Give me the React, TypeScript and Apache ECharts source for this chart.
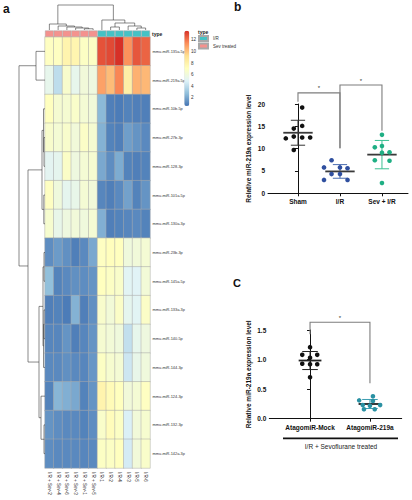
import React, { useEffect, useRef } from 'react';
import * as echarts from 'echarts';

// ---------- Panel a: heatmap ----------
const colNames = ['I/R + Sev-2', 'I/R + Sev-4', 'I/R + Sev-6', 'I/R + Sev-3', 'I/R + Sev-1', 'I/R + Sev-5', 'I/R-1', 'I/R-2', 'I/R-4', 'I/R-3', 'I/R-5', 'I/R-6'];
const colTypes = ['Sev treated', 'Sev treated', 'Sev treated', 'Sev treated', 'Sev treated', 'Sev treated', 'I/R', 'I/R', 'I/R', 'I/R', 'I/R', 'I/R'];
const typeNames = ['I/R', 'Sev treated'];
const rowNames = ['mmu-miR-135a-5p', 'mmu-miR-219a-5p', 'mmu-miR-10b-5p', 'mmu-miR-27b-3p', 'mmu-miR-128-3p', 'mmu-miR-101a-5p', 'mmu-miR-130a-3p', 'mmu-miR-23b-3p', 'mmu-miR-145a-5p', 'mmu-miR-133a-3p', 'mmu-miR-140-5p', 'mmu-miR-144-3p', 'mmu-miR-124-3p', 'mmu-miR-132-3p', 'mmu-miR-142a-3p'];
const heatValues = [
  [7.0, 7.0, 7.9, 7.8, 6.9, 6.9, 12.8, 13.0, 13.6, 11.3, 12.7, 12.4],
  [5.4, 4.0, 6.6, 5.4, 6.1, 5.9, 10.9, 10.2, 11.6, 8.2, 10.5, 10.3],
  [7.1, 6.4, 6.4, 6.7, 6.3, 6.1, 2.6, 0.9, 0.8, 1.0, 0.9, 0.9],
  [6.6, 6.3, 6.6, 6.1, 6.8, 6.4, 2.4, 1.0, 0.9, 1.8, 1.5, 1.2],
  [5.2, 5.3, 6.8, 5.9, 6.3, 6.4, 2.1, 1.3, 2.2, 1.0, 0.9, 1.0],
  [7.0, 6.0, 5.3, 5.5, 6.3, 6.1, 1.1, 0.9, 1.2, 1.9, 1.0, 1.5],
  [6.5, 5.5, 5.9, 6.1, 6.0, 6.3, 2.3, 0.9, 1.0, 1.1, 1.2, 1.0],
  [1.3, 1.7, 1.4, 0.9, 1.2, 2.1, 7.0, 7.2, 7.1, 6.0, 6.1, 6.3],
  [2.8, 1.0, 1.2, 1.4, 1.3, 1.5, 7.1, 6.9, 6.7, 5.1, 5.0, 6.2],
  [0.9, 1.0, 0.8, 2.4, 0.9, 1.4, 6.6, 6.2, 6.8, 5.3, 5.1, 6.8],
  [1.1, 1.1, 1.5, 0.9, 1.1, 1.5, 6.4, 6.2, 6.0, 4.1, 5.4, 5.9],
  [1.2, 1.2, 1.4, 1.2, 1.1, 1.6, 6.9, 6.5, 6.3, 4.4, 5.5, 6.0],
  [1.0, 2.5, 2.3, 2.1, 1.0, 1.5, 7.9, 7.4, 7.1, 6.1, 6.3, 7.0],
  [1.5, 1.3, 1.2, 1.2, 1.0, 1.3, 6.7, 7.3, 6.9, 4.8, 6.1, 6.5],
  [1.3, 1.2, 1.2, 1.2, 1.1, 1.2, 6.9, 6.9, 7.1, 4.6, 6.1, 6.7],
];
const scaleMin = 0.6;
const scaleMax = 13.6;
const scaleTicks = [2, 4, 6, 8, 10, 12];
const heatColors = ['#4575B4', '#91BFDB', '#E0F3F8', '#FFFFBF', '#FEE090', '#FC8D59', '#D73027'];
const typeColors = { 'I/R': '#45C2C5', 'Sev treated': '#F4928E' };

// hclust-style merges: negative = leaf (1-based display order), positive = earlier merge; third value = height
const colMerges = [
  [-5, -6, 0.5], [-4, 1, 0.8], [-3, 2, 1.2], [-2, 3, 1.6], [-1, 4, 2.4],
  [-8, -9, 1.2], [-11, -12, 0.8], [-10, 7, 1.6], [6, 8, 2.8], [-7, 9, 4.0],
  [5, 10, 10],
];
const rowMerges = [
  [-1, -2, 9], [-4, -5, 1], [-3, 2, 1.5], [-6, -7, 1.2], [3, 4, 3],
  [-8, -9, 1], [-10, -11, 1], [7, -12, 1.5], [6, 8, 2], [-14, -15, 1],
  [-13, 10, 4], [9, 11, 6], [5, 12, 17], [1, 13, 26],
];

// ---------- Panel b ----------
const groupsB = ['Sham', 'I/R', 'Sev + I/R'];
const shamValues = [19.2, 14.5, 15.1, 12.3, 12.7, 12.5, 12.5, 9.7];
const shamJitter = [0.1, -0.1, 0.1, -0.29, -0.1, 0.1, 0.29, -0.1];
const irValues = [7.4, 5.8, 5.8, 5.6, 4.3, 4.3, 3.0, 3.0];
const irJitter = [-0.2, -0.38, 0, 0.18, -0.2, 0, -0.38, 0.18];
const sevValues = [13.1, 10.3, 10.6, 9.1, 9.2, 7.4, 7.3, 2.3];
const sevJitter = [0, -0.17, 0, 0, 0.18, -0.17, 0.18, 0];
// [x1, leg1 bottom, x2, leg2 bottom, top]
const bracketsB = [
  [0, 20.5, 1, 10.1, 22.5],
  [1, 10.1, 2, 14.0, 24.25],
];

// ---------- Panel c ----------
const groupsC = ['AtagomiR-Mock', 'AtagomiR-219a'];
const mockValues = [1.21, 1.08, 1.08, 1.03, 0.93, 0.92, 0.92, 0.70];
const mockJitter = [0, -0.13, 0.12, 0, -0.13, 0, 0.12, 0];
const agoValues = [0.38, 0.31, 0.30, 0.23, 0.23, 0.22, 0.16, 0.16];
const agoJitter = [0.05, -0.18, 0.05, -0.12, 0.17, 0, -0.1, 0.08];
const bracketsC = [[0, 1.43, 1, 0.6, 1.63]];

const FONT = '"Liberation Sans", Arial, Helvetica, sans-serif';

function mean(a: number[]) {
  return a.reduce((s, v) => s + v, 0) / a.length;
}
function sd(a: number[]) {
  const m = mean(a);
  return Math.sqrt(a.reduce((s, v) => s + (v - m) * (v - m), 0) / (a.length - 1));
}

function buildLinks(merges: number[][]) {
  const pos: number[] = [];
  const hgt: number[] = [];
  const links: number[][] = [];
  merges.forEach(([a, b, h], i) => {
    const pa = a < 0 ? -a - 1 + 0.5 : pos[a - 1];
    const ha = a < 0 ? 0 : hgt[a - 1];
    const pb = b < 0 ? -b - 1 + 0.5 : pos[b - 1];
    const hb = b < 0 ? 0 : hgt[b - 1];
    pos[i] = (pa + pb) / 2;
    hgt[i] = h;
    links.push([pa, ha, pb, hb, h]);
  });
  return links;
}

function dendroSeries(links: number[][], axisIndex: number, horizontal: boolean) {
  return {
    type: 'custom',
    xAxisIndex: axisIndex,
    yAxisIndex: axisIndex,
    silent: true,
    clip: false,
    data: links,
    renderItem: (_p: any, api: any) => {
      const pa = api.value(0), ha = api.value(1), pb = api.value(2), hb = api.value(3), h = api.value(4);
      const pt = (p: number, hh: number) => (horizontal ? api.coord([hh, p]) : api.coord([p, hh]));
      return {
        type: 'polyline',
        shape: { points: [pt(pa, ha), pt(pa, h), pt(pb, h), pt(pb, hb)] },
        style: { stroke: '#3a3a3a', lineWidth: 0.6, fill: null },
      };
    },
  };
}

function scatterSeries(values: number[], jitter: number[], x: number, color: string, axisIndex: number) {
  return {
    type: 'scatter',
    xAxisIndex: axisIndex,
    yAxisIndex: axisIndex,
    symbolSize: 4.6,
    z: 5,
    itemStyle: { color, opacity: 1 },
    data: values.map((v, i) => [x + jitter[i], v]),
  };
}

function errorSeries(groups: number[][], sdColors: string[], meanColor: string, meanHalf: number, capHalf: number, axisIndex: number) {
  return {
    type: 'custom',
    xAxisIndex: axisIndex,
    yAxisIndex: axisIndex,
    silent: true,
    z: 3,
    data: groups,
    renderItem: (_p: any, api: any) => {
      const x = api.value(0), m = api.value(1), s = api.value(2), i = api.value(3);
      const c = sdColors[i];
      const top = api.coord([x, m + s]);
      const bot = api.coord([x, m - s]);
      const tl = api.coord([x - capHalf, m + s]);
      const tr = api.coord([x + capHalf, m + s]);
      const bl = api.coord([x - capHalf, m - s]);
      const br = api.coord([x + capHalf, m - s]);
      const ml = api.coord([x - meanHalf, m]);
      const mr = api.coord([x + meanHalf, m]);
      return {
        type: 'group',
        children: [
          { type: 'line', shape: { x1: top[0], y1: top[1], x2: bot[0], y2: bot[1] }, style: { stroke: c, lineWidth: 1 } },
          { type: 'line', shape: { x1: tl[0], y1: tl[1], x2: tr[0], y2: tr[1] }, style: { stroke: c, lineWidth: 1 } },
          { type: 'line', shape: { x1: bl[0], y1: bl[1], x2: br[0], y2: br[1] }, style: { stroke: c, lineWidth: 1 } },
          { type: 'line', shape: { x1: ml[0], y1: ml[1], x2: mr[0], y2: mr[1] }, style: { stroke: meanColor, lineWidth: 1.8 } },
        ],
      };
    },
  };
}

function bracketSeries(brackets: number[][], axisIndex: number) {
  return {
    type: 'custom',
    xAxisIndex: axisIndex,
    yAxisIndex: axisIndex,
    silent: true,
    clip: false,
    data: brackets,
    renderItem: (_p: any, api: any) => {
      const x1 = api.value(0), y1 = api.value(1), x2 = api.value(2), y2 = api.value(3), yt = api.value(4);
      const pts = [api.coord([x1, y1]), api.coord([x1, yt]), api.coord([x2, yt]), api.coord([x2, y2])];
      const mid = api.coord([(x1 + x2) / 2, yt]);
      return {
        type: 'group',
        children: [
          { type: 'polyline', shape: { points: pts }, style: { stroke: '#7d7d7d', lineWidth: 1.1, fill: null } },
          { type: 'text', x: mid[0], y: mid[1] - 1.5, style: { text: '*', fontSize: 6, fill: '#333', align: 'center', verticalAlign: 'bottom', fontFamily: FONT } },
        ],
      };
    },
  };
}

const boldLabel = { fontFamily: FONT, fontWeight: 'bold', fontSize: 6.5, color: '#111' };

function buildOption() {
  const heatData: number[][] = [];
  heatValues.forEach((row, r) => row.forEach((v, c) => heatData.push([c, r, v])));

  const statsB = [shamValues, irValues, sevValues].map((a, i) => [i, mean(a), sd(a), i]);
  const statsC = [mockValues, agoValues].map((a, i) => [i, mean(a), sd(a), i]);

  const hiddenVal = (min: number, max: number, gridIndex: number, extra: any = {}) => ({
    type: 'value', gridIndex, min, max, show: false, splitLine: { show: false }, ...extra,
  });

  return {
    animation: false,
    backgroundColor: '#fff',
    textStyle: { fontFamily: FONT },
    grid: [
      { left: 45, top: 37, width: 105, height: 431 }, // 0 heatmap
      { left: 45, top: 30.5, width: 105, height: 6.5 }, // 1 annotation bar
      { left: 45, top: 5, width: 105, height: 25 }, // 2 top dendrogram
      { left: 17, top: 37, width: 28, height: 431 }, // 3 left dendrogram
      { left: 189, top: 30.7, width: 1, height: 75.3 }, // 4 colour bar labels
      { left: 268, top: 104, width: 140, height: 89.3 }, // 5 panel b
      { left: 269.3, top: 330, width: 132.4, height: 88.7 }, // 6 panel c
    ],
    xAxis: [
      {
        type: 'category', gridIndex: 0, data: colNames,
        axisLine: { show: false }, axisTick: { show: false },
        axisLabel: { rotate: -90, fontSize: 4.5, color: '#222', margin: 4, interval: 0 },
      },
      { type: 'category', gridIndex: 1, data: colNames, show: false },
      hiddenVal(0, colNames.length, 2),
      hiddenVal(0, 28, 3, { inverse: true }),
      hiddenVal(0, 1, 4),
      {
        type: 'value', gridIndex: 5, min: -0.714, max: 2.62,
        splitLine: { show: false },
        axisLine: { show: true, lineStyle: { color: '#111', width: 1 } },
        axisTick: { show: true, customValues: [0, 1, 2], length: 3, lineStyle: { color: '#111' } },
        axisLabel: { ...boldLabel, customValues: [0, 1, 2], margin: 5, formatter: (v: number) => groupsB[Math.round(v)] },
      },
      {
        type: 'value', gridIndex: 6, min: -0.68, max: 1.53,
        splitLine: { show: false },
        axisLine: { show: true, lineStyle: { color: '#111', width: 1 } },
        axisTick: { show: true, customValues: [0, 1], length: 3, lineStyle: { color: '#111' } },
        axisLabel: { ...boldLabel, customValues: [0, 1], margin: 5, formatter: (v: number) => groupsC[Math.round(v)] },
      },
    ],
    yAxis: [
      {
        type: 'category', gridIndex: 0, data: rowNames, inverse: true, position: 'right',
        axisLine: { show: false }, axisTick: { show: false },
        axisLabel: { fontSize: 3.9, color: '#333', margin: 2.5, interval: 0 },
      },
      hiddenVal(0, 1, 1),
      hiddenVal(0, 10, 2),
      hiddenVal(0, rowNames.length, 3, { inverse: true }),
      {
        type: 'value', gridIndex: 4, min: scaleMin, max: scaleMax, position: 'right',
        splitLine: { show: false }, axisLine: { show: false }, axisTick: { show: false },
        axisLabel: { customValues: scaleTicks, fontSize: 4.6, color: '#333', margin: 1 },
      },
      {
        type: 'value', gridIndex: 5, min: 0, max: 20, interval: 5,
        splitLine: { show: false },
        axisLine: { show: true, lineStyle: { color: '#111', width: 1 } },
        axisTick: { show: true, length: 3, lineStyle: { color: '#111' } },
        axisLabel: { ...boldLabel, margin: 3 },
        name: 'Relative miR-219a expression level', nameLocation: 'middle', nameGap: 16,
        nameTextStyle: { ...boldLabel },
      },
      {
        type: 'value', gridIndex: 6, min: 0, max: 1.5, interval: 0.5,
        splitLine: { show: false },
        axisLine: { show: true, lineStyle: { color: '#111', width: 1 } },
        axisTick: { show: true, length: 3, lineStyle: { color: '#111' } },
        axisLabel: { ...boldLabel, margin: 3, formatter: (v: number) => v.toFixed(1) },
        name: 'Relative miR-219a expression level', nameLocation: 'middle', nameGap: 17,
        nameTextStyle: { ...boldLabel },
      },
    ],
    visualMap: {
      type: 'continuous', seriesIndex: 0, dimension: 2,
      min: scaleMin, max: scaleMax, calculable: false, hoverLink: false,
      inRange: { color: heatColors },
      orient: 'vertical', left: 184.3, top: 30.7, itemWidth: 5, itemHeight: 75.3, padding: 0,
    },
    legend: {
      data: typeNames, orient: 'vertical', left: 198, top: 35, padding: 0,
      itemWidth: 9, itemHeight: 5, itemGap: 0.5, icon: 'rect', selectedMode: false,
      textStyle: { fontSize: 4.5, color: '#333', fontFamily: FONT },
    },
    graphic: [
      { type: 'text', left: 3, top: 3, style: { text: 'a', fontSize: 12, fontWeight: 'bold', fill: '#111', fontFamily: FONT } },
      { type: 'text', left: 234, top: 1, style: { text: 'b', fontSize: 12, fontWeight: 'bold', fill: '#111', fontFamily: FONT } },
      { type: 'text', left: 233, top: 277, style: { text: 'C', fontSize: 11, fontWeight: 'bold', fill: '#111', fontFamily: FONT } },
      { type: 'text', left: 152, top: 31, style: { text: 'type', fontSize: 5, fontWeight: 'bold', fill: '#222', fontFamily: FONT } },
      { type: 'text', left: 198, top: 29.5, style: { text: 'type', fontSize: 5, fontWeight: 'bold', fill: '#222', fontFamily: FONT } },
      { type: 'line', shape: { x1: 283, y1: 438.3, x2: 398, y2: 438.3 }, style: { stroke: '#111', lineWidth: 1.8 } },
      { type: 'text', x: 341, y: 446, style: { text: 'I/R + Sevoflurane treated', fontSize: 6.5, fill: '#222', align: 'center', verticalAlign: 'middle', fontFamily: FONT } },
    ],
    series: [
      {
        type: 'heatmap', xAxisIndex: 0, yAxisIndex: 0, data: heatData,
        itemStyle: { borderColor: '#a8a8a8', borderWidth: 0.5 },
        emphasis: { disabled: true },
      },
      ...typeNames.map((t) => ({
        type: 'bar', name: t, xAxisIndex: 1, yAxisIndex: 1, barWidth: '100%', barGap: '-100%',
        itemStyle: { color: (typeColors as any)[t], borderColor: '#a8a8a8', borderWidth: 0.5 },
        data: colTypes.map((ct) => (ct === t ? 1 : '-')),
        silent: true,
      })),
      dendroSeries(buildLinks(colMerges), 2, false),
      dendroSeries(buildLinks(rowMerges), 3, true),
      errorSeries(statsB, ['#333333', '#4a6db0', '#3cc093'], '#3a3a3a', 0.35, 0.17, 5),
      scatterSeries(shamValues, shamJitter, 0, '#111111', 5),
      scatterSeries(irValues, irJitter, 1, '#2F4F9F', 5),
      scatterSeries(sevValues, sevJitter, 2, '#1FAF84', 5),
      bracketSeries(bracketsB, 5),
      errorSeries(statsC, ['#222222', '#3b9db0'], '#222222', 0.19, 0.13, 6),
      scatterSeries(mockValues, mockJitter, 0, '#111111', 6),
      scatterSeries(agoValues, agoJitter, 1, '#2A91A3', 6),
      bracketSeries(bracketsC, 6),
    ],
  };
}

export default function App() {
  const ref = useRef<HTMLDivElement>(null);
  useEffect(() => {
    if (!ref.current) return;
    const chart = echarts.init(ref.current, null, { renderer: 'svg' });
    chart.setOption(buildOption() as any);
    return () => chart.dispose();
  }, []);
  return (
    <div
      ref={ref}
      style={{ position: 'fixed', left: 0, top: 0, width: 412, height: 500, background: '#fff' }}
    />
  );
}
